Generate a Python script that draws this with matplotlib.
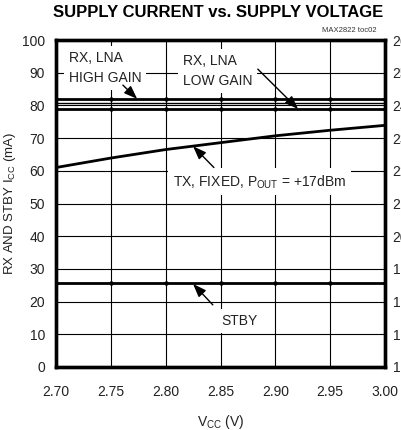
import numpy as np
import matplotlib
matplotlib.use("Agg")
from matplotlib import pyplot as plt

plt.rcParams['font.family'] = ['Liberation Sans', 'DejaVu Sans']
plt.rcParams['mathtext.fontset'] = 'custom'
plt.rcParams['mathtext.rm'] = 'Liberation Sans'
plt.rcParams['mathtext.it'] = 'Liberation Sans:italic'

# supply voltage (V)
vcc = [2.70, 2.75, 2.80, 2.85, 2.90, 2.95, 3.00]

# supply current (mA)
rx_high_gain = [82.0, 82.0, 82.0, 82.0, 82.0, 82.0, 82.0]
rx_mid = [80.7, 80.7, 80.7, 80.7, 80.7, 80.7, 80.7]
rx_low_gain = [78.9, 78.9, 78.9, 78.9, 78.9, 78.9, 78.9]
tx_fixed = [61.0, 63.9, 66.5, 68.6, 70.7, 72.4, 73.9]
stby = [25.6, 25.6, 25.6, 25.6, 25.6, 25.6, 25.6]

left_ticks = list(range(0, 101, 10))
right_ticks = list(range(160, 261, 10))
x_ticks = [2.70, 2.75, 2.80, 2.85, 2.90, 2.95, 3.00]

fig = plt.figure(figsize=(4.01, 4.30), dpi=100)
ax = fig.add_axes([56 / 401, 63 / 430, 329 / 401, 327 / 430])

ax.plot(vcc, rx_high_gain, color='black', lw=2.0, marker='o', ms=2.2, zorder=3)
ax.plot(vcc, rx_mid, color='black', lw=1.0, zorder=3)
ax.plot(vcc, rx_low_gain, color='black', lw=2.0, marker='o', ms=2.2, zorder=3)
ax.plot(vcc, tx_fixed, color='black', lw=2.0, zorder=3)
ax.plot(vcc, stby, color='black', lw=2.0, marker='o', ms=2.2, zorder=3)

ax.set_xlim(2.70, 3.00)
ax.set_ylim(0, 100)
ax.set_xticks(x_ticks)
ax.set_xticklabels(['%.2f' % v for v in x_ticks])
ax.set_yticks(left_ticks)
ax.grid(True, color='black', lw=0.8)
ax.set_axisbelow(True)
ax.tick_params(length=0, labelsize=10, colors='#222222')
ax.tick_params(axis='x', pad=13)
ax.tick_params(axis='y', pad=8)
for sp in ax.spines.values():
    sp.set_linewidth(2.4)

# TX current scale on the right
ax2 = ax.twinx()
ax2.set_ylim(160, 260)
ax2.set_yticks(right_ticks)
ax2.tick_params(length=0, labelsize=10, pad=5.5, colors='#222222')
for sp in ax2.spines.values():
    sp.set_linewidth(2.4)

ax.set_xlabel('V$_{\\rm CC}$ (V)', fontsize=10, color='#222222', labelpad=10)
ax.set_ylabel('RX AND STBY I$_{\\rm CC}$ (mA)', fontsize=9.5, color='#222222', labelpad=3)

fig.text(0.543, 0.971, 'SUPPLY CURRENT vs. SUPPLY VOLTAGE', ha='center', va='center',
         fontsize=12, fontweight='bold')
fig.text(376 / 401, 1 - 30 / 430, 'MAX2822 toc02', ha='right', va='center', fontsize=5.5,
         color='#333333')

box = dict(boxstyle='square,pad=0.35', fc='white', ec='none')
arrow = dict(arrowstyle='-|>,head_length=0.8,head_width=0.3', color='black', lw=1.0,
             shrinkA=0, shrinkB=0)

ax.text(2.7115, 91.5, 'RX, LNA\nHIGH GAIN', ha='left', va='center', fontsize=10,
        color='#222222', linespacing=1.55, bbox=box, zorder=4)
ax.text(2.8155, 90.6, 'RX, LNA\nLOW GAIN', ha='left', va='center', fontsize=10,
        color='#222222', linespacing=1.55, bbox=box, zorder=4)
ax.text(2.8067, 56.6, 'TX, FIXED, P$_{\\rm OUT}$ = +17dBm', ha='left', va='center',
        fontsize=10, color='#222222', bbox=box, zorder=4)
ax.text(2.8505, 14.1, 'STBY', ha='left', va='center', fontsize=10, color='#222222',
        bbox=box, zorder=4)

ax.annotate('', xy=(2.774, 82.0), xytext=(2.761, 86.2), arrowprops=arrow, zorder=5)
ax.annotate('', xy=(2.9207, 78.9), xytext=(2.884, 91.1), arrowprops=arrow, zorder=5)
ax.annotate('', xy=(2.825, 67.5), xytext=(2.844, 61.0), arrowprops=arrow, zorder=5)
ax.annotate('', xy=(2.825, 25.4), xytext=(2.843, 19.0), arrowprops=arrow, zorder=5)

fig.savefig('out.png', dpi=100)
